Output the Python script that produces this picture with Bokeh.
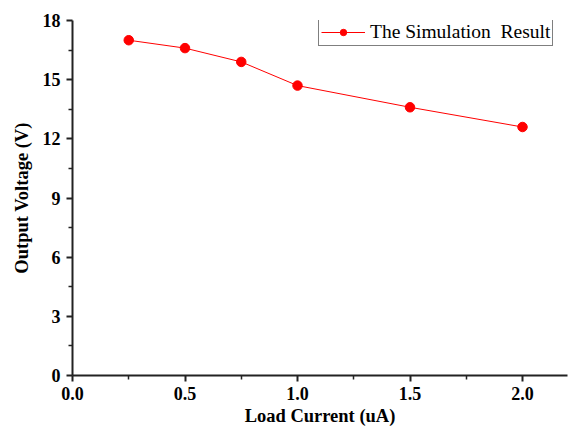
from bokeh.plotting import figure
from bokeh.models import Range1d, FixedTicker, Legend, LegendItem
from bokeh.embed import file_html
from bokeh.resources import INLINE

load_current = [0.25, 0.5, 0.75, 1.0, 1.5, 2.0]
output_voltage = [17.0, 16.6, 15.9, 14.7, 13.6, 12.6]
x_ticks = [0.0, 0.5, 1.0, 1.5, 2.0]
y_ticks = [0, 3, 6, 9, 12, 15, 18]

FONT = "Liberation Serif"

p = figure(width=570, height=428, output_backend="svg", toolbar_location=None,
           x_range=Range1d(0, 2.2), y_range=Range1d(0, 18),
           min_border_left=72, min_border_right=3, min_border_top=20, min_border_bottom=50)
p.outline_line_color = None
p.grid.visible = False

r_line = p.line(load_current, output_voltage, line_color="#ff0000", line_width=1)
r_pts = p.scatter(load_current, output_voltage, size=9.5, fill_color="#ff0000", line_color="#ff0000")

for ax in (p.xaxis[0], p.yaxis[0]):
    ax.axis_line_width = 2
    ax.axis_line_color = "#222222"
    ax.major_tick_line_width = 2
    ax.major_tick_line_color = "#222222"
    ax.minor_tick_line_width = 1.5
    ax.minor_tick_line_color = "#222222"
    ax.major_tick_out = 6
    ax.major_tick_in = 0
    ax.minor_tick_out = 4
    ax.minor_tick_in = 0
    ax.major_label_text_font = FONT
    ax.major_label_text_font_style = "bold"
    ax.major_label_text_font_size = "18px"
    ax.major_label_text_color = "black"
    ax.axis_label_text_font = FONT
    ax.axis_label_text_font_style = "bold"
    ax.axis_label_text_font_size = "18.5px"
    ax.axis_label_text_color = "black"

p.xaxis[0].ticker = FixedTicker(ticks=x_ticks, minor_ticks=[0.25, 0.75, 1.25, 1.75])
p.yaxis[0].ticker = FixedTicker(ticks=y_ticks, minor_ticks=[1.5, 4.5, 7.5, 10.5, 13.5, 16.5])
p.xaxis[0].major_label_overrides = {t: f"{t:.1f}" for t in x_ticks}
p.xaxis[0].axis_label = "Load Current (uA)"
p.yaxis[0].axis_label = "Output Voltage (V)"
p.xaxis[0].major_label_standoff = 5
p.yaxis[0].major_label_standoff = 6
p.xaxis[0].axis_label_standoff = 3
p.yaxis[0].axis_label_standoff = 8

legend = Legend(items=[LegendItem(label="The Simulation  Result", renderers=[r_line, r_pts])],
                location=(246, 329))
legend.border_line_color = "black"
legend.border_line_width = 1
legend.label_text_font = FONT
legend.label_text_font_size = "19.5px"
legend.label_text_color = "black"
legend.glyph_width = 44
legend.glyph_height = 16
legend.label_standoff = 5
legend.padding = 2
legend.margin = 0
legend.label_height = 16
legend.background_fill_alpha = 1
p.add_layout(legend)

open("out.html", "w").write(file_html(p, INLINE))
